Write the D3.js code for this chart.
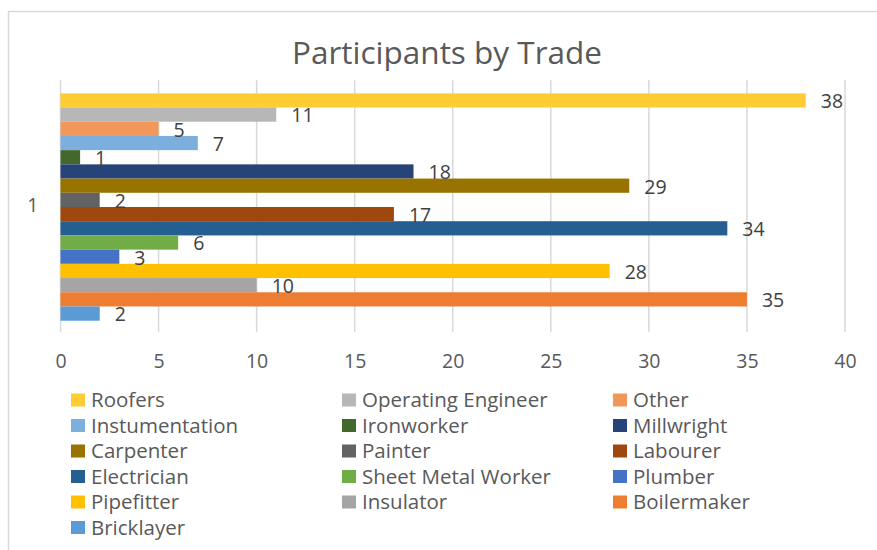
<!DOCTYPE html>
<html>
<head>
<meta charset="utf-8">
<script src="https://cdn.jsdelivr.net/npm/d3@7"></script>
<style>
  body { margin: 0; background: #fff; }
  #vis { width: 877px; height: 550px; overflow: hidden; }
</style>
</head>
<body>
<div id="vis"></div>
<script>
// series names, top to bottom as drawn
const trades = ["Roofers", "Operating Engineer", "Other", "Instumentation", "Ironworker", "Millwright",
  "Carpenter", "Painter", "Labourer", "Electrician", "Sheet Metal Worker", "Plumber",
  "Pipefitter", "Insulator", "Boilermaker", "Bricklayer"]
const participants = [38, 11, 5, 7, 1, 18, 29, 2, 17, 34, 6, 3, 28, 10, 35, 2]
const tradeColors = ["#FFCD33", "#B7B7B7", "#F1975A", "#7CAFDD", "#43682B", "#264478",
  "#997300", "#636363", "#9E480E", "#255E91", "#70AD47", "#4472C4",
  "#FFC000", "#A5A5A5", "#ED7D31", "#5B9BD5"]
const xTicks = [0, 5, 10, 15, 20, 25, 30, 35, 40]
const categories = ["1"]

const data = trades.map((t, i) => ({ trade: t, value: participants[i], color: tradeColors[i] }))

// set the dimensions of the plot area
var margin = { top: 80, left: 60.5, right: 32, bottom: 218 },
    width = 877 - margin.left - margin.right,
    height = 550 - margin.top - margin.bottom;

var svg = d3.select("#vis")
  .append("svg")
    .attr("width", 877)
    .attr("height", 550)
    .style("font-family", "'Open Sans', sans-serif");

// chart border
svg.append("rect")
  .attr("x", 8.5).attr("y", 11.5)
  .attr("width", 900).attr("height", 600)
  .attr("fill", "none")
  .attr("stroke", "#d9d9d9")
  .attr("stroke-width", 1.5);

svg.append("text")
  .attr("x", 447).attr("y", 64)
  .attr("text-anchor", "middle")
  .attr("fill", "#595959")
  .style("font-size", "31.5px")
  .text("Participants by Trade");

var plot = svg.append("g")
  .attr("transform", "translate(" + margin.left + "," + margin.top + ")");

var x = d3.scaleLinear().domain([0, 40]).range([0, width]);

var cat = d3.scaleBand().domain(categories).range([0, height]);

var y = d3.scaleBand()
  .domain(trades)
  .range([13.3, height - 11.3]);

// gridlines
plot.append("g")
  .selectAll("line")
  .data(xTicks)
  .enter()
  .append("line")
    .attr("x1", d => x(d)).attr("x2", d => x(d))
    .attr("y1", 0).attr("y2", height)
    .attr("stroke", "#d9d9d9")
    .attr("stroke-width", 1.5);

// x axis labels
plot.append("g")
  .attr("transform", "translate(0," + height + ")")
  .call(d3.axisBottom(x).tickValues(xTicks).tickSize(0).tickPadding(22))
  .call(g => g.select(".domain").remove())
  .call(g => g.selectAll("text")
    .attr("fill", "#595959")
    .style("font-size", "19.5px")
    .style("font-family", "'Open Sans', sans-serif"));

// category label
plot.append("g")
  .call(d3.axisLeft(cat).tickSize(0).tickPadding(22))
  .call(g => g.select(".domain").remove())
  .call(g => g.selectAll("text")
    .attr("fill", "#595959")
    .style("font-size", "19.5px")
    .style("font-family", "'Open Sans', sans-serif"));

// bars
plot.append("g")
  .selectAll("rect")
  .data(data)
  .enter()
  .append("rect")
    .attr("x", x(0))
    .attr("y", d => y(d.trade))
    .attr("width", d => x(d.value) - x(0))
    .attr("height", y.bandwidth())
    .attr("fill", d => d.color);

// data labels
plot.append("g")
  .selectAll("text")
  .data(data)
  .enter()
  .append("text")
    .attr("x", d => x(d.value) + 15)
    .attr("y", d => y(d.trade) + y.bandwidth() / 2 + 1)
    .attr("dy", "0.35em")
    .attr("fill", "#404040")
    .style("font-size", "19.5px")
    .text(d => d.value);

// legend
var legend = svg.append("g")
  .attr("transform", "translate(71,393.5)");

var item = legend.selectAll("g")
  .data(data)
  .enter()
  .append("g")
    .attr("transform", (d, i) => "translate(" + [0, 271, 542][i % 3] + "," + Math.floor(i / 3) * 25.5 + ")");

item.append("rect")
  .attr("width", 14).attr("height", 13)
  .attr("fill", d => d.color);

item.append("text")
  .attr("x", 20).attr("y", 6.5)
  .attr("dy", "0.35em")
  .attr("fill", "#595959")
  .style("font-size", "20.5px")
  .text(d => d.trade);
</script>
</body>
</html>
